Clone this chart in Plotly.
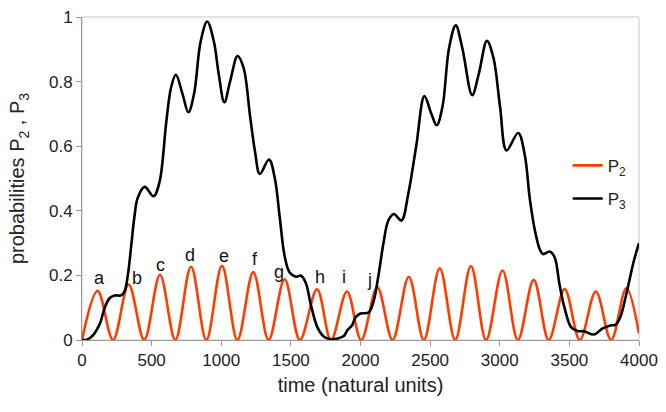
import plotly.graph_objects as go

# ---- data ----
p2_time = [0, 112, 223, 335, 447, 560, 670, 783, 893, 1005, 1116, 1230, 1340, 1455, 1565, 1688, 1788,
           1903, 2005, 2121, 2230, 2347, 2455, 2569, 2680, 2793, 2902, 3020, 3130, 3244, 3352, 3466,
           3575, 3690, 3800, 3909, 4000]
p2_vals = [0, 0.152, 0, 0.172, 0, 0.202, 0, 0.227, 0, 0.230, 0, 0.210, 0, 0.188, 0, 0.157, 0,
           0.150, 0, 0.163, 0, 0.196, 0, 0.222, 0, 0.229, 0, 0.215, 0, 0.186, 0, 0.158,
           0, 0.150, 0, 0.160, 0.02]

p3_time = [0, 40, 80, 128, 163, 199, 234, 281, 305, 329, 353, 376, 400, 450, 514, 557, 604, 639,
           674, 721, 764, 805, 852, 899, 947, 982, 1022, 1065, 1117, 1160, 1207, 1243, 1277, 1343,
           1385, 1420, 1455, 1490, 1537, 1573, 1608, 1643, 1690, 1738, 1780, 1830, 1880, 1905,
           1939, 1964, 2000, 2058, 2094, 2129, 2165, 2200, 2240, 2294, 2342, 2400, 2459, 2507,
           2547, 2589, 2636, 2684, 2731, 2802, 2849, 2908, 2955, 3002, 3049, 3132, 3180, 3215,
           3252, 3288, 3311, 3359, 3394, 3430, 3465, 3512, 3559, 3606, 3677, 3736, 3795, 3830,
           3865, 3913, 3960, 4000]
p3_vals = [0, 0.002, 0.015, 0.05, 0.10, 0.13, 0.138, 0.138, 0.15, 0.20, 0.29, 0.38, 0.44, 0.474,
           0.445, 0.49, 0.67, 0.78, 0.821, 0.763, 0.705, 0.763, 0.924, 0.986, 0.924, 0.823, 0.736,
           0.803, 0.879, 0.843, 0.693, 0.582, 0.514, 0.559, 0.50, 0.38, 0.26, 0.21, 0.196, 0.199,
           0.176, 0.11, 0.04, 0.01, 0.003, 0.004, 0.012, 0.03, 0.045, 0.07, 0.082, 0.085, 0.12,
           0.20, 0.30, 0.37, 0.39, 0.37, 0.45, 0.60, 0.755, 0.703, 0.665, 0.723, 0.904, 0.974,
           0.904, 0.758, 0.823, 0.926, 0.873, 0.723, 0.587, 0.641, 0.572, 0.44, 0.34, 0.28, 0.266,
           0.274, 0.256, 0.17, 0.10, 0.04, 0.028, 0.027, 0.017, 0.035, 0.045, 0.047, 0.07, 0.15,
           0.24, 0.30]

label_text = ["a", "b", "c", "d", "e", "f", "g", "h", "i", "j"]
label_time = [128, 392, 565, 775, 1022, 1239, 1413, 1706, 1878, 2063]
label_vals = [0.192, 0.192, 0.232, 0.262, 0.259, 0.250, 0.209, 0.194, 0.194, 0.187]

x_ticks = [0, 500, 1000, 1500, 2000, 2500, 3000, 3500, 4000]
y_ticks = [0, 0.2, 0.4, 0.6, 0.8, 1]
y_tick_text = ["0", "0.2", "0.4", "0.6", "0.8", "1"]

FONT = "Arial, Liberation Sans, sans-serif"
RED = "#ff3c00"

fig = go.Figure()
fig.add_trace(go.Scatter(x=p2_time, y=p2_vals, mode="lines", name="P<sub>2</sub>",
                         legendgroup="g2",
                         line=dict(color=RED, width=2.6, shape="spline", smoothing=1)))
fig.add_trace(go.Scatter(x=p3_time, y=p3_vals, mode="lines", name="P<sub>3</sub>",
                         legendgroup="g3",
                         line=dict(color="black", width=2.6, shape="spline", smoothing=1)))

for t, xx, yy in zip(label_text, label_time, label_vals):
    fig.add_annotation(x=xx, y=yy, text=t, showarrow=False, xanchor="center", yanchor="middle",
                       font=dict(family=FONT, size=18, color="#111"))

fig.add_shape(type="rect", xref="paper", yref="paper", x0=0, y0=0, x1=1, y1=1,
              line=dict(color="#c8c8c8", width=1), layer="below")

fig.update_layout(
    width=666, height=412,
    margin=dict(l=82, r=20, t=8, b=72),
    paper_bgcolor="white", plot_bgcolor="white",
    font=dict(family=FONT, size=17, color="#222"),
    showlegend=True,
    legend=dict(x=0.872, y=0.595, xanchor="left", yanchor="top", bgcolor="rgba(0,0,0,0)",
                font=dict(family=FONT, size=17, color="#222"), tracegroupgap=8,
                itemwidth=30),
    xaxis=dict(range=[0, 4000], tickvals=x_ticks, ticks="outside", ticklen=5, tickcolor="#999",
               showline=True, linecolor="#999", linewidth=1, showgrid=False, zeroline=False,
               ticklabeloverflow="allow",
               tickfont=dict(size=17, color="#222"),
               title=dict(text="time (natural units)", font=dict(size=20, color="#222"), standoff=8)),
    yaxis=dict(range=[0, 1], tickvals=y_ticks, ticktext=y_tick_text, ticks="outside", ticklen=5,
               tickcolor="#999", showline=True, linecolor="#999", linewidth=1, showgrid=False,
               zeroline=False, ticklabeloverflow="allow", tickfont=dict(size=17, color="#222"),
               title=dict(text="probabilities P<sub>2</sub> , P<sub>3</sub>",
                          font=dict(size=20, color="#222"), standoff=18)),
)

fig.write_html("out.html", config={"displayModeBar": False},
               post_script="document.body.style.margin='0';document.body.style.padding='0';")
